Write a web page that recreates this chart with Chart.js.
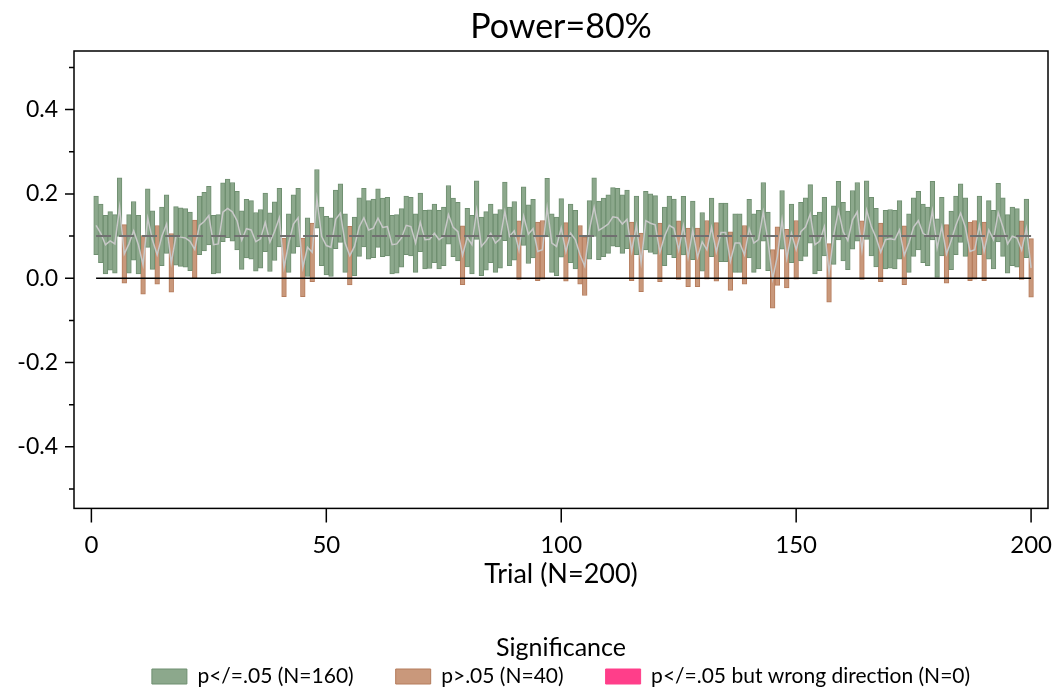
<!DOCTYPE html>
<html>
<head>
<meta charset="utf-8">
<script src="https://cdn.jsdelivr.net/npm/chart.js@4"></script>
<style>
html,body{margin:0;padding:0;background:#fff;}
</style>
</head>
<body>
<canvas id="myChart" width="1053" height="691"></canvas>
<script>
// upper / lower confidence limits per trial
const upper = [
  0.195, 0.176, 0.149, 0.158, 0.151, 0.238, 0.127, 0.151, 0.182, 0.149, 0.101, 0.212, 0.160, 0.125, 0.169, 0.198, 0.106, 0.170, 0.167, 0.165, 0.157, 0.138, 0.195, 0.204, 0.218,
  0.149, 0.151, 0.226, 0.235, 0.227, 0.206, 0.160, 0.187, 0.184, 0.156, 0.163, 0.202, 0.155, 0.181, 0.213, 0.095, 0.153, 0.198, 0.213, 0.095, 0.143, 0.131, 0.258, 0.169, 0.147,
  0.143, 0.209, 0.224, 0.153, 0.123, 0.145, 0.191, 0.213, 0.184, 0.188, 0.212, 0.190, 0.192, 0.149, 0.151, 0.165, 0.195, 0.192, 0.153, 0.202, 0.161, 0.162, 0.176, 0.161, 0.169,
  0.220, 0.190, 0.180, 0.124, 0.166, 0.149, 0.231, 0.145, 0.158, 0.176, 0.153, 0.163, 0.228, 0.169, 0.182, 0.136, 0.217, 0.174, 0.187, 0.133, 0.137, 0.237, 0.153, 0.145, 0.189,
  0.132, 0.176, 0.161, 0.125, 0.098, 0.184, 0.238, 0.183, 0.190, 0.198, 0.215, 0.213, 0.198, 0.209, 0.133, 0.195, 0.107, 0.206, 0.200, 0.196, 0.131, 0.169, 0.195, 0.188, 0.136,
  0.194, 0.119, 0.183, 0.119, 0.156, 0.137, 0.190, 0.132, 0.178, 0.178, 0.110, 0.153, 0.153, 0.125, 0.187, 0.153, 0.161, 0.227, 0.157, 0.068, 0.122, 0.208, 0.116, 0.176, 0.137,
  0.180, 0.191, 0.222, 0.149, 0.157, 0.192, 0.082, 0.172, 0.230, 0.180, 0.159, 0.208, 0.227, 0.136, 0.231, 0.192, 0.166, 0.131, 0.161, 0.163, 0.161, 0.184, 0.124, 0.153, 0.191,
  0.206, 0.176, 0.169, 0.230, 0.141, 0.192, 0.127, 0.159, 0.195, 0.224, 0.191, 0.133, 0.137, 0.195, 0.133, 0.184, 0.161, 0.225, 0.191, 0.151, 0.169, 0.165, 0.136, 0.188, 0.094
];
const lower = [
  0.056, 0.037, 0.010, 0.019, 0.012, 0.099, -0.012, 0.012, 0.043, 0.010, -0.038, 0.073, 0.021, -0.014, 0.030, 0.059, -0.033, 0.031, 0.028, 0.026, 0.018, -0.001, 0.056, 0.065, 0.079,
  0.010, 0.012, 0.087, 0.096, 0.088, 0.067, 0.021, 0.048, 0.045, 0.017, 0.024, 0.063, 0.016, 0.042, 0.074, -0.044, 0.014, 0.059, 0.074, -0.044, 0.004, -0.008, 0.119, 0.030, 0.008,
  0.004, 0.070, 0.085, 0.014, -0.016, 0.006, 0.052, 0.074, 0.045, 0.049, 0.073, 0.051, 0.053, 0.010, 0.012, 0.026, 0.056, 0.053, 0.014, 0.063, 0.022, 0.023, 0.037, 0.022, 0.030,
  0.081, 0.051, 0.041, -0.015, 0.027, 0.010, 0.092, 0.006, 0.019, 0.037, 0.014, 0.024, 0.089, 0.030, 0.043, -0.003, 0.078, 0.035, 0.048, -0.006, -0.002, 0.098, 0.014, 0.006, 0.050,
  -0.007, 0.037, 0.022, -0.014, -0.041, 0.045, 0.099, 0.044, 0.051, 0.059, 0.076, 0.074, 0.059, 0.070, -0.006, 0.056, -0.032, 0.067, 0.061, 0.057, -0.008, 0.030, 0.056, 0.049, -0.003,
  0.055, -0.020, 0.044, -0.020, 0.017, -0.002, 0.051, -0.007, 0.039, 0.039, -0.029, 0.014, 0.014, -0.014, 0.048, 0.014, 0.022, 0.088, 0.018, -0.071, -0.017, 0.069, -0.023, 0.037, -0.002,
  0.041, 0.052, 0.083, 0.010, 0.018, 0.053, -0.057, 0.033, 0.091, 0.041, 0.020, 0.069, 0.088, -0.003, 0.092, 0.053, 0.027, -0.008, 0.022, 0.024, 0.022, 0.045, -0.015, 0.014, 0.052,
  0.067, 0.037, 0.030, 0.091, 0.002, 0.053, -0.012, 0.020, 0.056, 0.085, 0.052, -0.006, -0.002, 0.056, -0.006, 0.045, 0.022, 0.086, 0.052, 0.012, 0.030, 0.026, -0.003, 0.049, -0.045
];
const trials = upper.map((v, i) => i + 1);
const trueEffect = 0.1;
const nullEffect = 0;
const xTickStep = 50;
const yTickStep = 0.1;

const font = "Lato";

let sig = [], ns = [], wrong = [], est = [];
trials.forEach((t, i) => {
    const pt = {x: t, y: [lower[i], upper[i]]};
    if (lower[i] > 0) sig.push(pt);
    else if (upper[i] < 0) wrong.push(pt);
    else ns.push(pt);
    est.push({x: t, y: (lower[i] + upper[i]) / 2});
});

const frame = {
    id: "frame",
    afterDraw(chart) {
        const ctx = chart.ctx, a = chart.chartArea;
        const x = chart.scales.x, y = chart.scales.y;
        ctx.save();
        ctx.strokeStyle = "#000";
        ctx.lineWidth = 1.5;
        ctx.strokeRect(a.left, a.top, a.right - a.left, a.bottom - a.top);
        ctx.beginPath();
        y.ticks.forEach(t => {
            const py = y.getPixelForValue(t.value);
            ctx.moveTo(a.left - (t.label !== "" ? 9 : 5), py);
            ctx.lineTo(a.left, py);
        });
        x.ticks.forEach(t => {
            const px = x.getPixelForValue(t.value);
            ctx.moveTo(px, a.bottom);
            ctx.lineTo(px, a.bottom + 14);
        });
        ctx.stroke();
        ctx.restore();
    }
};

new Chart("myChart", {
    type: "bar",
    data: {
        datasets: [
            {label: `p</=.05 (N=${sig.length})`, data: sig, backgroundColor: "#8ca88c", borderColor: "#6f8f70",
             borderWidth: 1, borderSkipped: false, grouped: false, barPercentage: 1, categoryPercentage: 1, order: 3},
            {label: `p>.05 (N=${ns.length})`, data: ns, backgroundColor: "#c9987b", borderColor: "#b57c5c",
             borderWidth: 1, borderSkipped: false, grouped: false, barPercentage: 1, categoryPercentage: 1, order: 3},
            {label: `p</=.05 but wrong direction (N=${wrong.length})`, data: wrong, backgroundColor: "#ff3e8a", borderColor: "#ff3e8a",
             borderWidth: 1, borderSkipped: false, grouped: false, barPercentage: 1, categoryPercentage: 1, order: 3},
            {type: "line", data: est, borderColor: "#c8c8c8", borderWidth: 1.5, pointRadius: 0, order: 2},
            {type: "line", data: [{x: 1, y: trueEffect}, {x: 200, y: trueEffect}], borderColor: "#707070",
             borderWidth: 2, borderDash: [15, 8], pointRadius: 0, order: 1},
            {type: "line", data: [{x: 1, y: nullEffect}, {x: 200, y: nullEffect}], borderColor: "#000",
             borderWidth: 1.5, pointRadius: 0, order: 0}
        ]
    },
    options: {
        responsive: false,
        animation: false,
        devicePixelRatio: 1,
        layout: {padding: {top: 0, left: 0, right: 5, bottom: -6}},
        scales: {
            x: {
                type: "linear", min: -3.7, max: 203.6, offset: false,
                grid: {display: false, drawTicks: false, offset: false},
                border: {display: false},
                ticks: {stepSize: xTickStep, includeBounds: false, autoSkip: false, maxRotation: 0,
                        padding: 22, color: "#000", font: {family: font, size: 24}},
                title: {display: true, text: "Trial (N=200)", color: "#000",
                        font: {family: font, size: 27}, padding: {top: 0, bottom: 5.8}},
                afterFit: s => { s.height = 88; s.paddingLeft = 0; s.paddingRight = 0; }
            },
            y: {
                min: -0.546, max: 0.539,
                grid: {display: false, drawTicks: false},
                border: {display: false},
                ticks: {stepSize: yTickStep, includeBounds: false, autoSkip: false, padding: 16,
                        color: "#000", font: {family: font, size: 23},
                        callback: v => { const k = Math.round(v * 10); return k % 2 === 0 ? (k / 10).toFixed(1) : ""; }},
                afterFit: s => { s.width = 74; s.paddingTop = 0; s.paddingBottom = 0; }
            }
        },
        plugins: {
            title: {display: true, text: "Power=80%", color: "#000", fullSize: false,
                    font: {family: font, size: 34, weight: "normal"}, padding: {top: 7, bottom: 3.2}},
            legend: {
                position: "bottom", fullSize: false,
                labels: {boxWidth: 35, boxHeight: 15, padding: 42, color: "#000",
                         font: {family: font, size: 21},
                         filter: item => item.datasetIndex < 3},
                title: {display: true, text: "Significance", color: "#000",
                        font: {family: font, size: 25}, padding: {top: 39, bottom: -41.4}}
            },
            tooltip: {enabled: false}
        }
    },
    plugins: [frame]
});
</script>
</body>
</html>
